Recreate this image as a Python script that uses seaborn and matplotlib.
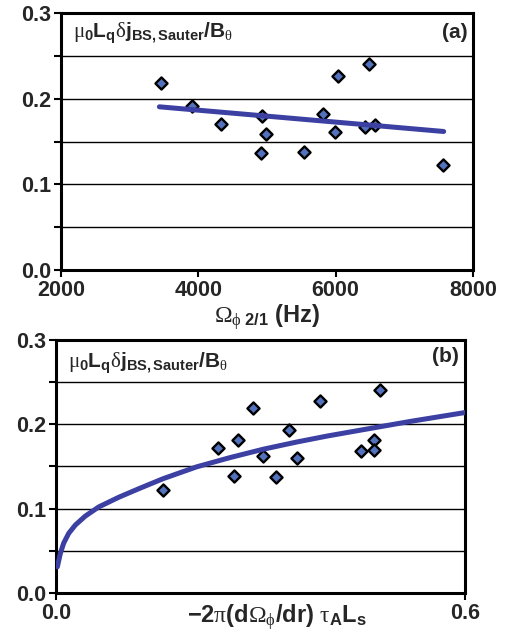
import numpy as np
import pandas as pd
import matplotlib
matplotlib.use("Agg")
import matplotlib.pyplot as plt
import seaborn as sns

# ---- data ----
freq_hz = [3453, 3914, 4332, 4920, 4988, 4906, 5542, 5814, 5994, 6038, 6432, 6480, 6577, 7559]
djbs_a = [0.218, 0.192, 0.171, 0.180, 0.159, 0.137, 0.138, 0.182, 0.161, 0.227, 0.167, 0.240, 0.169, 0.122]
fit_a_x = [3433, 7573]
fit_a_y = [0.1905, 0.1617]

shear = [0.157, 0.238, 0.261, 0.267, 0.289, 0.303, 0.323, 0.342, 0.353, 0.388, 0.447, 0.466, 0.467, 0.476]
djbs_b = [0.122, 0.172, 0.139, 0.182, 0.219, 0.162, 0.138, 0.193, 0.160, 0.228, 0.168, 0.182, 0.170, 0.241]
fit_b_x = [0.002, 0.0035, 0.0064, 0.0112, 0.0186, 0.0284, 0.043, 0.0626, 0.092, 0.121,
           0.157, 0.206, 0.255, 0.304, 0.353, 0.397, 0.446, 0.52, 0.60]
fit_b_y = [0.031, 0.0365, 0.047, 0.059, 0.0707, 0.0806, 0.0912, 0.102, 0.1135, 0.1235,
           0.1355, 0.1495, 0.1605, 0.1705, 0.179, 0.186, 0.193, 0.2035, 0.214]

yticks = [0.0, 0.1, 0.2, 0.3]
ytick_labels = ["0.0", "0.1", "0.2", "0.3"]
grid_y = [0.05, 0.10, 0.15, 0.20, 0.25]
xticks_a = [2000, 4000, 6000, 8000]
xticks_b = [0.0, 0.6]
xtick_labels_b = ["0.0", "0.6"]

ylabel_text = (r'$\mathrm{\mu}_{\mathbf{0}}\mathbf{L}_{\mathbf{q}}\mathrm{\delta}'
               r'\mathbf{j}_{\mathbf{BS,Sauter}}\mathbf{/B}_{\mathrm{\theta}}$')
xlabel_a = r'$\mathrm{\Omega}_{\mathrm{\phi}\ \mathbf{2/1}}\ \mathbf{(Hz)}$'
xlabel_b = (r'$\mathbf{-2}\mathrm{\pi}\mathbf{(d}\mathrm{\Omega}_{\mathrm{\phi}}'
            r'\mathbf{/dr)}\ \mathrm{\tau}_{\mathbf{A}}\mathbf{L}_{\mathbf{s}}$')

sns.set_style("white")
plt.rcParams['font.family'] = ['Liberation Sans', 'DejaVu Sans']
plt.rcParams['font.weight'] = 'bold'
plt.rcParams['mathtext.fontset'] = 'custom'
plt.rcParams['mathtext.rm'] = 'Liberation Serif:normal'
plt.rcParams['mathtext.it'] = 'Liberation Serif:italic'
plt.rcParams['mathtext.bf'] = 'Liberation Sans:bold'

marker_fill = '#5372bd'
line_col = '#3b40a2'

fig = plt.figure(figsize=(5.05, 6.34), dpi=100)
ax1 = fig.add_axes([0.1208, 0.5741, 0.8158, 0.4054])
ax2 = fig.add_axes([0.1109, 0.0647, 0.8099, 0.3990])

dfa = pd.DataFrame({"x": freq_hz, "y": djbs_a})
dfb = pd.DataFrame({"x": shear, "y": djbs_b})
fa = pd.DataFrame({"x": fit_a_x, "y": fit_a_y})
fb = pd.DataFrame({"x": fit_b_x, "y": fit_b_y})

def style(ax, xlim, xticks, xticklabels):
    for g in grid_y:
        ax.axhline(g, color='black', lw=1.0, zorder=1)
    ax.set_xlim(*xlim)
    ax.set_ylim(0, 0.3)
    ax.set_yticks(yticks)
    ax.set_yticks([0.05, 0.15, 0.25], minor=True)
    ax.set_yticklabels(ytick_labels, fontsize=15.5, fontweight='bold')
    ax.set_xticks(xticks)
    ax.set_xticklabels(xticklabels, fontsize=15.5, fontweight='bold')
    ax.tick_params(axis='both', which='both', direction='out', length=5, width=1.5,
                   color='black', left=True, bottom=True, pad=2)
    for sp in ax.spines.values():
        sp.set_linewidth(2.2)
        sp.set_color('black')
    ax.set_ylabel('')

def draw(ax, df, fit):
    sns.scatterplot(data=df, x="x", y="y", ax=ax, marker='D', s=38, color=marker_fill,
                    edgecolor='black', linewidth=1.7, zorder=3)
    sns.lineplot(data=fit, x="x", y="y", ax=ax, color=line_col, lw=3.6, zorder=4,
                 sort=False, solid_capstyle='round', solid_joinstyle='round')

draw(ax1, dfa, fa)
style(ax1, (2000, 8000), xticks_a, [str(v) for v in xticks_a])
ax1.set_xlabel(xlabel_a, fontsize=17, va='top')
ax1.xaxis.set_label_coords(0.5, -0.125)
ax1.text(0.029, 0.922, ylabel_text, transform=ax1.transAxes, fontsize=15,
         ha='left', va='center')
ax1.text(0.988, 0.926, '(a)', transform=ax1.transAxes, fontsize=15, fontweight='bold',
         ha='right', va='center')

draw(ax2, dfb, fb)
style(ax2, (0, 0.6), xticks_b, xtick_labels_b)
ax2.set_xlabel(xlabel_b, fontsize=17, va='top')
ax2.xaxis.set_label_coords(0.539, -0.035)
ax2.text(0.029, 0.909, ylabel_text, transform=ax2.transAxes, fontsize=15,
         ha='left', va='center')
ax2.text(0.985, 0.933, '(b)', transform=ax2.transAxes, fontsize=15, fontweight='bold',
         ha='right', va='center')

fig.savefig("out.png", dpi=100)
